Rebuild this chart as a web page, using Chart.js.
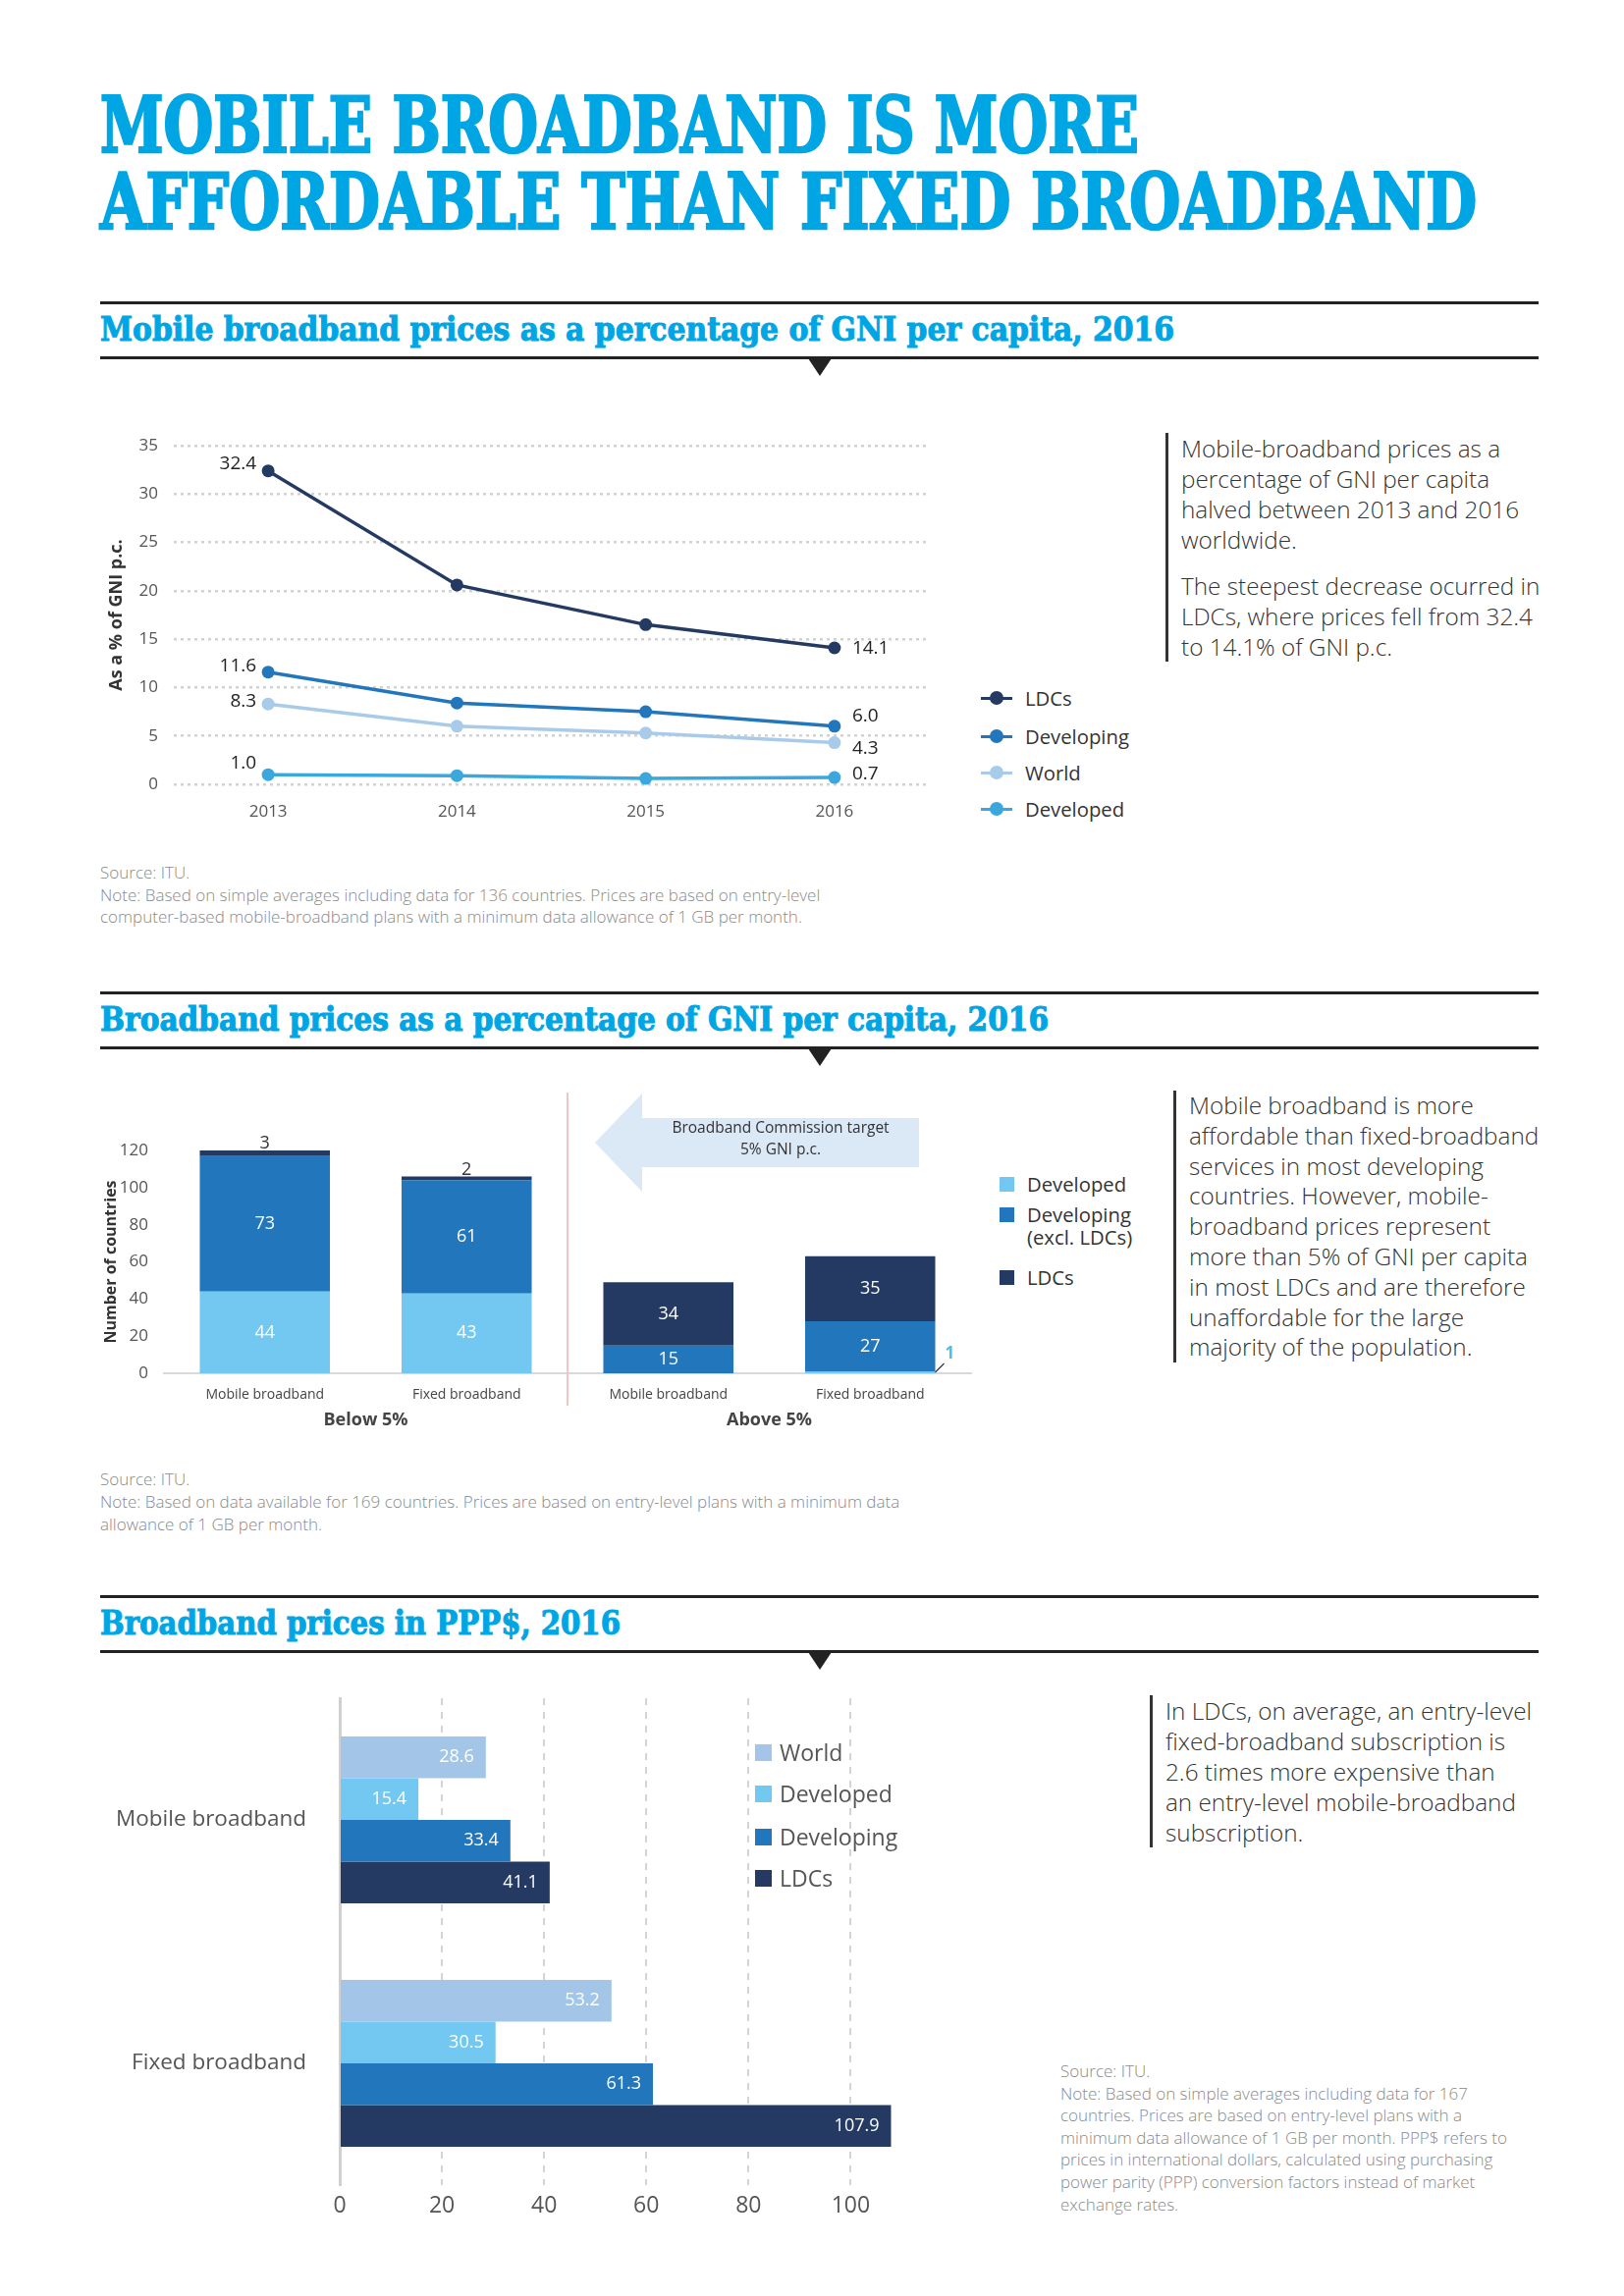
<!DOCTYPE html>
<html lang="en">
<head>
<meta charset="UTF-8">
<script src="https://cdn.jsdelivr.net/npm/chart.js"></script>
<title>Mobile broadband is more affordable than fixed broadband</title>
<style>
  body { margin: 0; background: #fff; }
  .page { position: relative; width: 1654px; height: 2339px; background: #fff; overflow: hidden;
          font-family: 'Open Sans', sans-serif; color: #333; }
  .fit { position: absolute; left: 102px; white-space: nowrap; transform-origin: left top;
         font-family: 'DejaVu Serif Condensed', 'DejaVu Serif', serif; font-weight: bold; color: #00a6e4; }
  .title { font-size: 78px; line-height: 78px; -webkit-text-stroke: 2.5px #00a6e4; }
  .heading { font-size: 34px; line-height: 34px; -webkit-text-stroke: 1px #00a6e4; }
  .rule { position: absolute; left: 102px; width: 1465px; height: 3px; background: #222; }
  .pointer { position: absolute; left: 823px; width: 0; height: 0;
             border-left: 12px solid transparent; border-right: 12px solid transparent; border-top: 18px solid #222; }
  .side { position: absolute; border-left: 3px solid #333; padding-left: 13px; font-weight: 300;
          font-size: 24.3px; line-height: 31px; white-space: nowrap; color: #333; }
  .side p { margin: 0; }
  .side p + p { margin-top: 16px; }
  .src { position: absolute; left: 102px; font-weight: 300; font-size: 17px; line-height: 22.5px;
         color: #8a8a8a; white-space: nowrap; }
  .box { position: absolute; }
  .legend { position: absolute; font-size: 20.3px; color: #333; }
  .legend .item { position: absolute; left: 0; white-space: nowrap; display: flex; align-items: center; }
  .sym { position: relative; display: inline-block; width: 32px; height: 14px; margin-right: 13px; }
  .sym .ln { position: absolute; left: 0; top: 5.5px; width: 32px; height: 3px; }
  .sym .dot { position: absolute; left: 9px; top: 0; width: 14px; height: 14px; border-radius: 50%; }
  .sq { display: inline-block; width: 15px; height: 15px; margin-right: 13px; }
  .arrow { position: absolute; left: 606px; top: 1114px; width: 330px; height: 100px; background: #dbe8f6;
           clip-path: polygon(0 50%, 48px 0, 48px 25%, 100% 25%, 100% 75%, 48px 75%, 48px 100%); }
  .arrow-text { position: absolute; left: 660px; top: 1137px; width: 270px; text-align: center;
                font-size: 15.5px; line-height: 22px; color: #333; }
</style>
</head>
<body>
<div class="page">
  <div class="fit title" style="top:89px" data-w="1058">MOBILE BROADBAND IS MORE</div>
  <div class="fit title" style="top:167px" data-w="1402">AFFORDABLE THAN FIXED BROADBAND</div>

  <!-- section 1 -->
  <div class="rule" style="top:307px"></div>
  <div class="fit heading" style="top:318px" data-w="1094">Mobile broadband prices as a percentage of GNI per capita, 2016</div>
  <div class="rule" style="top:363px"></div>
  <div class="pointer" style="top:365px"></div>

  <div class="box" style="left:100px; top:440px; width:856px; height:400px;"><canvas id="trend-chart"></canvas></div>
  <div class="legend" id="trend-legend" style="left:999px; top:0;"></div>

  <div class="side" style="left:1187px; top:441px;">
    <p>Mobile-broadband prices as a<br>percentage of GNI per capita<br>halved between 2013 and 2016<br>worldwide.</p>
    <p>The steepest decrease ocurred in<br>LDCs, where prices fell from 32.4<br>to 14.1% of GNI p.c.</p>
  </div>
  <div class="src" style="top:878px">Source: ITU.<br>Note: Based on simple averages including data for 136 countries. Prices are based on entry-level<br>computer-based mobile-broadband plans with a minimum data allowance of 1 GB per month.</div>

  <!-- section 2 -->
  <div class="rule" style="top:1010px"></div>
  <div class="fit heading" style="top:1021px" data-w="966">Broadband prices as a percentage of GNI per capita, 2016</div>
  <div class="rule" style="top:1066px"></div>
  <div class="pointer" style="top:1068px"></div>

  <div class="box" style="left:90px; top:1105px; width:914px; height:354px;"><canvas id="count-chart"></canvas></div>
  <div class="arrow"></div>
  <div class="arrow-text">Broadband Commission target<br>5% GNI p.c.</div>
  <div class="legend" id="count-legend" style="left:1018px; top:0;"></div>

  <div class="side" style="left:1195px; top:1111px; line-height:30.8px;">
    <p>Mobile broadband is more<br>affordable than fixed-broadband<br>services in most developing<br>countries. However, mobile-<br>broadband prices represent<br>more than 5% of GNI per capita<br>in most LDCs and are therefore<br>unaffordable for the large<br>majority of the population.</p>
  </div>
  <div class="src" style="top:1495px; line-height:23px;">Source: ITU.<br>Note: Based on data available for 169 countries. Prices are based on entry-level plans with a minimum data<br>allowance of 1 GB per month.</div>

  <!-- section 3 -->
  <div class="rule" style="top:1625px"></div>
  <div class="fit heading" style="top:1636px" data-w="530">Broadband prices in PPP$, 2016</div>
  <div class="rule" style="top:1681px"></div>
  <div class="pointer" style="top:1683px"></div>

  <div class="box" style="left:90px; top:1720px; width:860px; height:550px;"><canvas id="ppp-chart"></canvas></div>
  <div class="legend" id="ppp-legend" style="left:769px; top:0; font-size:23px; color:#555;"></div>

  <div class="side" style="left:1171px; top:1727px;">
    <p>In LDCs, on average, an entry-level<br>fixed-broadband subscription is<br>2.6 times more expensive than<br>an entry-level mobile-broadband<br>subscription.</p>
  </div>
  <div class="src" style="left:1080px; top:2099px; line-height:22.6px;">Source: ITU.<br>Note: Based on simple averages including data for 167<br>countries. Prices are based on entry-level plans with a<br>minimum data allowance of 1 GB per month. PPP$ refers to<br>prices in international dollars, calculated using purchasing<br>power parity (PPP) conversion factors instead of market<br>exchange rates.</div>
</div>

<script>
  // ---- data: mobile-broadband prices, % of GNI p.c.
  const years = ['2013', '2014', '2015', '2016'];
  const trendSeries = ['LDCs', 'Developing', 'World', 'Developed'];
  const ldcsPct = [32.4, 20.6, 16.5, 14.1];
  const developingPct = [11.6, 8.4, 7.5, 6.0];
  const worldPct = [8.3, 6.0, 5.3, 4.3];
  const developedPct = [1.0, 0.9, 0.6, 0.7];
  const pctTicks = [0, 5, 10, 15, 20, 25, 30, 35];

  // ---- data: number of countries below / above 5% of GNI p.c.
  const countCategories = ['Mobile broadband', 'Fixed broadband', 'Mobile broadband', 'Fixed broadband'];
  const countGroups = ['Below 5%', 'Above 5%'];
  const countSeries = ['Developed', 'Developing\n(excl. LDCs)', 'LDCs'];
  const developedCount = [44, 43, 0, 1];
  const developingCount = [73, 61, 15, 27];
  const ldcsCount = [3, 2, 34, 35];
  const countTicks = [0, 20, 40, 60, 80, 100, 120];

  // ---- data: prices in PPP$
  const pppCategories = ['Mobile broadband', 'Fixed broadband'];
  const pppSeries = ['World', 'Developed', 'Developing', 'LDCs'];
  const worldPpp = [28.6, 53.2];
  const developedPpp = [15.4, 30.5];
  const developingPpp = [33.4, 61.3];
  const ldcsPpp = [41.1, 107.9];
  const pppTicks = [0, 20, 40, 60, 80, 100];

  const navy = '#253a63', blue = '#2276bb', sky = '#72c8f1', cyan = '#3ba8dd';
  const font = "'Open Sans', sans-serif";
  Chart.defaults.font.family = font;
  Chart.defaults.color = '#555';
  Chart.defaults.animation = false;

  // stretch the slab headings to the widths of the original
  function fitHeadings() {
    document.querySelectorAll('.fit').forEach(el => {
      el.style.transform = 'none';
      const w = el.getBoundingClientRect().width;
      el.style.transform = `scaleX(${el.dataset.w / w})`;
    });
  }

  function tickList(values) {
    return scale => { scale.ticks = values.map(v => ({ value: v })); };
  }

  // fixed width for a y axis, and no extra room for its end labels
  function yWidth(w) {
    return s => { s.width = w; s.paddingTop = 0; s.paddingBottom = 0; };
  }

  // ---------- chart 1: trend lines
  const leftShift = [-7, -6, -3, -12];
  const rightShift = [1, -10, 6, -4];
  const trendLabels = {
    id: 'trendLabels',
    afterDatasetsDraw(chart) {
      const ctx = chart.ctx;
      ctx.save();
      ctx.font = '19px ' + font;
      ctx.fillStyle = '#222';
      ctx.textBaseline = 'middle';
      chart.data.datasets.forEach((ds, i) => {
        const pts = chart.getDatasetMeta(i).data;
        const first = pts[0], last = pts[pts.length - 1];
        ctx.textAlign = 'right';
        ctx.fillText(ds.data[0].toFixed(1), first.x - 12, first.y + leftShift[i]);
        ctx.textAlign = 'left';
        ctx.fillText(ds.data[ds.data.length - 1].toFixed(1), last.x + 18, last.y + rightShift[i]);
      });
      ctx.restore();
    }
  };

  const trendColors = [navy, blue, '#a9cbea', cyan];
  const trendData = [ldcsPct, developingPct, worldPct, developedPct];

  new Chart(document.getElementById('trend-chart'), {
    type: 'line',
    data: {
      labels: years,
      datasets: trendSeries.map((name, i) => ({
        label: name,
        data: trendData[i],
        borderColor: trendColors[i],
        backgroundColor: trendColors[i],
        pointBackgroundColor: trendColors[i],
        pointBorderWidth: 0,
        pointRadius: 6.5,
        borderWidth: 3.5,
        tension: 0,
        clip: false
      }))
    },
    options: {
      responsive: true,
      maintainAspectRatio: false,
      layout: { padding: { top: 14, right: 10 } },
      plugins: { legend: { display: false }, tooltip: { enabled: false } },
      scales: {
        x: {
          offset: true,
          grid: { display: false },
          border: { display: false },
          ticks: { font: { size: 17 }, padding: 10 },
          afterFit: s => { s.height = 41; }
        },
        y: {
          min: 0, max: 35,
          afterBuildTicks: tickList(pctTicks),
          grid: { color: '#d2d2d2', lineWidth: 2.5, drawTicks: false },
          border: { display: false, dash: [3, 4] },
          ticks: { font: { size: 17 }, padding: 16 },
          title: { display: true, text: 'As a % of GNI p.c.', color: '#333',
                   font: { size: 18, weight: 'bold' }, padding: { top: 8, bottom: 0 } },
          afterFit: yWidth(77)
        }
      }
    },
    plugins: [trendLabels]
  });

  const trendTops = [711, 750, 787, 824];
  document.getElementById('trend-legend').innerHTML = trendSeries.map((name, i) =>
    `<div class="item" style="top:${trendTops[i] - 14}px"><span class="sym"><span class="ln" style="background:${trendColors[i]}"></span><span class="dot" style="background:${trendColors[i]}"></span></span>${name}</div>`
  ).join('');

  // ---------- chart 2: stacked country counts
  const countLabels = {
    id: 'countLabels',
    afterDatasetsDraw(chart) {
      const ctx = chart.ctx;
      ctx.save();
      ctx.textAlign = 'center';
      chart.data.datasets.forEach((ds, i) => {
        chart.getDatasetMeta(i).data.forEach((bar, j) => {
          const v = ds.data[j];
          if (!v) return;
          const h = bar.base - bar.y;
          ctx.font = '18px ' + font;
          if (h >= 20) {
            ctx.fillStyle = '#fff';
            ctx.textBaseline = 'middle';
            ctx.fillText(v, bar.x, (bar.y + bar.base) / 2);
          } else if (i === 2) {
            ctx.fillStyle = '#333';
            ctx.textBaseline = 'bottom';
            ctx.fillText(v, bar.x, bar.y + 2);
          } else {
            const x0 = bar.x + bar.width / 2;
            ctx.strokeStyle = '#333';
            ctx.lineWidth = 1.2;
            ctx.beginPath();
            ctx.moveTo(x0, bar.base - 1);
            ctx.lineTo(x0 + 9, bar.base - 10);
            ctx.stroke();
            ctx.fillStyle = '#4fbde9';
            ctx.font = 'bold 17px ' + font;
            ctx.textBaseline = 'middle';
            ctx.textAlign = 'left';
            ctx.fillText(v, x0 + 10, bar.base - 20);
            ctx.textAlign = 'center';
          }
        });
      });
      // group captions and the 5% divider
      const x = chart.scales.x;
      ctx.fillStyle = '#444';
      ctx.font = 'bold 18px ' + font;
      ctx.textBaseline = 'middle';
      countGroups.forEach((g, k) => {
        const cx = (x.getPixelForValue(2 * k) + x.getPixelForValue(2 * k + 1)) / 2;
        ctx.fillText(g, cx, chart.chartArea.bottom + 48);
      });
      const dx = (x.getPixelForValue(1) + x.getPixelForValue(2)) / 2;
      ctx.strokeStyle = '#f2c4c4';
      ctx.lineWidth = 2;
      ctx.beginPath();
      ctx.moveTo(dx, 8);
      ctx.lineTo(dx, 327);
      ctx.stroke();
      ctx.restore();
    }
  };

  const countColors = [sky, blue, navy];
  const countData = [developedCount, developingCount, ldcsCount];

  new Chart(document.getElementById('count-chart'), {
    type: 'bar',
    data: {
      labels: countCategories,
      datasets: countSeries.map((name, i) => ({
        label: name,
        data: countData[i],
        backgroundColor: countColors[i],
        barPercentage: 0.645,
        categoryPercentage: 1
      }))
    },
    options: {
      responsive: true,
      maintainAspectRatio: false,
      layout: { padding: { top: 67, right: 15 } },
      plugins: { legend: { display: false }, tooltip: { enabled: false } },
      scales: {
        x: {
          stacked: true,
          grid: { display: false },
          border: { color: '#d9d9d9', width: 2 },
          ticks: { font: { size: 14 }, color: '#444', padding: 6 },
          afterFit: s => { s.height = 60; }
        },
        y: {
          stacked: true,
          min: 0, max: 120,
          afterBuildTicks: tickList(countTicks),
          grid: { display: false },
          border: { display: false },
          ticks: { font: { size: 17 }, padding: 8 },
          title: { display: true, text: 'Number of countries', color: '#333',
                   font: { size: 16, weight: 'bold' }, padding: { top: 14, bottom: 0 } },
          afterFit: yWidth(77)
        }
      }
    },
    plugins: [countLabels]
  });

  const countTops = [1209, 1240, 1304];
  document.getElementById('count-legend').innerHTML = countSeries.map((name, i) => {
    const lines = name.split('\n');
    return `<div class="item" style="top:${countTops[i] - 14}px; align-items:flex-start; line-height:23px;"><span class="sq" style="background:${countColors[i]}; margin-top:4px"></span><span>${lines.join('<br>')}</span></div>`;
  }).join('');

  // ---------- chart 3: PPP$ horizontal bars
  const pppLabels = {
    id: 'pppLabels',
    afterDatasetsDraw(chart) {
      const ctx = chart.ctx;
      ctx.save();
      ctx.font = '18px ' + font;
      ctx.fillStyle = '#fff';
      ctx.textAlign = 'right';
      ctx.textBaseline = 'middle';
      chart.data.datasets.forEach((ds, i) => {
        chart.getDatasetMeta(i).data.forEach((bar, j) => {
          ctx.fillText(ds.data[j].toFixed(1), bar.x - 12, bar.y);
        });
      });
      ctx.restore();
    }
  };

  const pppColors = ['#a3c6e8', sky, blue, navy];
  const pppData = [worldPpp, developedPpp, developingPpp, ldcsPpp];

  new Chart(document.getElementById('ppp-chart'), {
    type: 'bar',
    data: {
      labels: pppCategories,
      datasets: pppSeries.map((name, i) => ({
        label: name,
        data: pppData[i],
        backgroundColor: pppColors[i],
        barPercentage: 1,
        categoryPercentage: 0.685
      }))
    },
    options: {
      indexAxis: 'y',
      responsive: true,
      maintainAspectRatio: false,
      layout: { padding: { top: 10, right: 42 } },
      plugins: { legend: { display: false }, tooltip: { enabled: false } },
      scales: {
        x: {
          min: 0, max: 108,
          afterBuildTicks: tickList(pppTicks),
          grid: { color: c => c.tick && c.tick.value === 0 ? 'rgba(0,0,0,0)' : '#d4d4d4',
                  lineWidth: 2, drawTicks: false },
          border: { display: false, dash: [7, 7] },
          ticks: { font: { size: 23 }, color: '#555', padding: 8 },
          afterFit: s => { s.height = 44; }
        },
        y: {
          grid: { display: false },
          border: { color: '#d0d0d0', width: 3 },
          ticks: { font: { size: 22.5 }, color: '#555', padding: 26 },
          afterFit: yWidth(256)
        }
      }
    },
    plugins: [pppLabels]
  });

  const pppTops = [1785, 1827, 1871, 1913];
  document.getElementById('ppp-legend').innerHTML = pppSeries.map((name, i) =>
    `<div class="item" style="top:${pppTops[i] - 16}px"><span class="sq" style="background:${pppColors[i]}; width:17px; height:17px; margin-right:8px"></span>${name}</div>`
  ).join('');

  fitHeadings();
  if (document.fonts && document.fonts.ready) document.fonts.ready.then(fitHeadings);
</script>
</body>
</html>
